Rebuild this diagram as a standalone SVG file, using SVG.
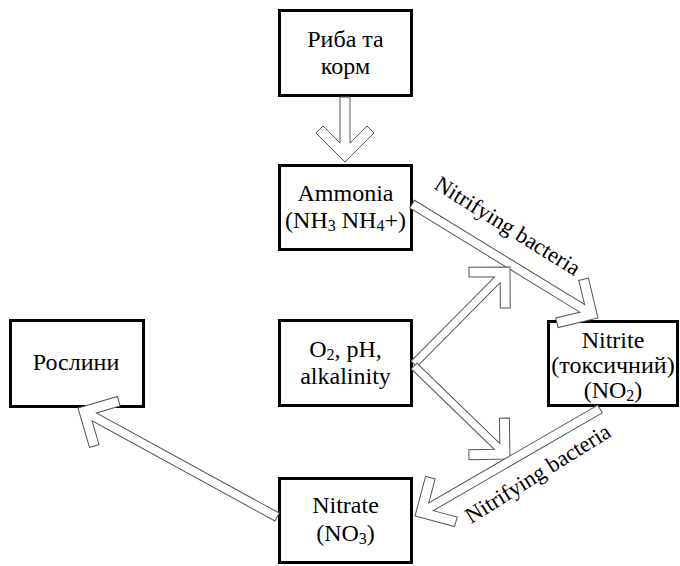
<svg xmlns="http://www.w3.org/2000/svg" width="680" height="566" viewBox="0 0 680 566" font-family="'Liberation Serif', 'DejaVu Serif', serif">
<style>
text{font-family:'Liberation Serif','DejaVu Serif',serif}
.box rect{fill:#fff;stroke:#000;stroke-width:3}
.box text{font-size:24px;fill:#000;text-anchor:middle}
.sub{font-size:16px}
.arr{fill:#fff;stroke:#555;stroke-width:1;stroke-linejoin:miter}
.lbl{font-size:22.5px;fill:#000}
</style>
<rect width="680" height="566" fill="#fff"/>
<g id="fish" class="box"><rect x="279.5" y="10.5" width="132" height="85"/><text x="345.5" y="47">Риба та</text><text x="345.5" y="74">корм</text></g>
<g id="ammonia" class="box"><rect x="279.5" y="165.5" width="132" height="84"/><text x="345.5" y="201">Ammonia</text><text x="345.5" y="228">(NH<tspan class="sub" dy="3">3</tspan><tspan dy="-3"> NH</tspan><tspan class="sub" dy="3">4</tspan><tspan dy="-3">+)</tspan></text></g>
<g id="o2" class="box"><rect x="279.5" y="320.5" width="132" height="85"/><text x="345.5" y="357">O<tspan class="sub" dy="3">2</tspan><tspan dy="-3">, pH,</tspan></text><text x="345.5" y="384">alkalinity</text></g>
<g id="plants" class="box"><rect x="10.5" y="320.5" width="133" height="86"/><text x="76" y="370">Рослини</text></g>
<g id="nitrite" class="box"><rect x="548.5" y="321.5" width="129" height="84"/><text x="613" y="348">Nitrite</text><text x="613" y="373">(токсичний)</text><text x="613" y="398">(NO<tspan class="sub" dy="3">2</tspan><tspan dy="-3">)</tspan></text></g>
<g id="nitrate" class="box"><rect x="279.5" y="478.5" width="132" height="84"/><text x="345.5" y="513">Nitrate</text><text x="345.5" y="541">(NO<tspan class="sub" dy="3">3</tspan><tspan dy="-3">)</tspan></text></g>
<g id="connectors">
<path class="arr" transform="translate(345,162) rotate(90)" d="M-65,-5 L-19,-5 L-36,-22 L-29,-29 L0,0 L-29,29 L-36,22 L-19,5 L-65,5 Z"/>
<path class="arr" transform="translate(598,318) rotate(31.5)" d="M-218,-4.5 L-18.5,-4.5 L-36,-22 L-29,-29 L0,0 L-29,29 L-36,22 L-18.5,4.5 L-218,4.5 Z"/>
<path class="arr" transform="translate(510,267) rotate(-45.3)" d="M-136.5,-4 L-18,-4 L-36,-22 L-29,-29 L0,0 L-29,29 L-36,22 L-18,4 L-136.5,4 Z"/>
<path class="arr" transform="translate(510,459) rotate(44.1)" d="M-133.6,-4 L-18,-4 L-36,-22 L-29,-29 L0,0 L-29,29 L-36,22 L-18,4 L-133.6,4 Z"/>
<path class="arr" transform="translate(415,516) rotate(149.96)" d="M-213.7,-4.5 L-18.5,-4.5 L-36,-22 L-29,-29 L0,0 L-29,29 L-36,22 L-18.5,4.5 L-213.7,4.5 Z"/>
<path class="arr" transform="translate(78,408) rotate(208.7)" d="M-227,-4.5 L-18.5,-4.5 L-36,-22 L-29,-29 L0,0 L-29,29 L-36,22 L-18.5,4.5 L-227,4.5 Z"/>
<text class="lbl" transform="translate(433,188) rotate(32)">Nitrifying bacteria</text>
<text class="lbl" transform="translate(471,524) rotate(-32)">Nitrifying bacteria</text>
</g>
</svg>
